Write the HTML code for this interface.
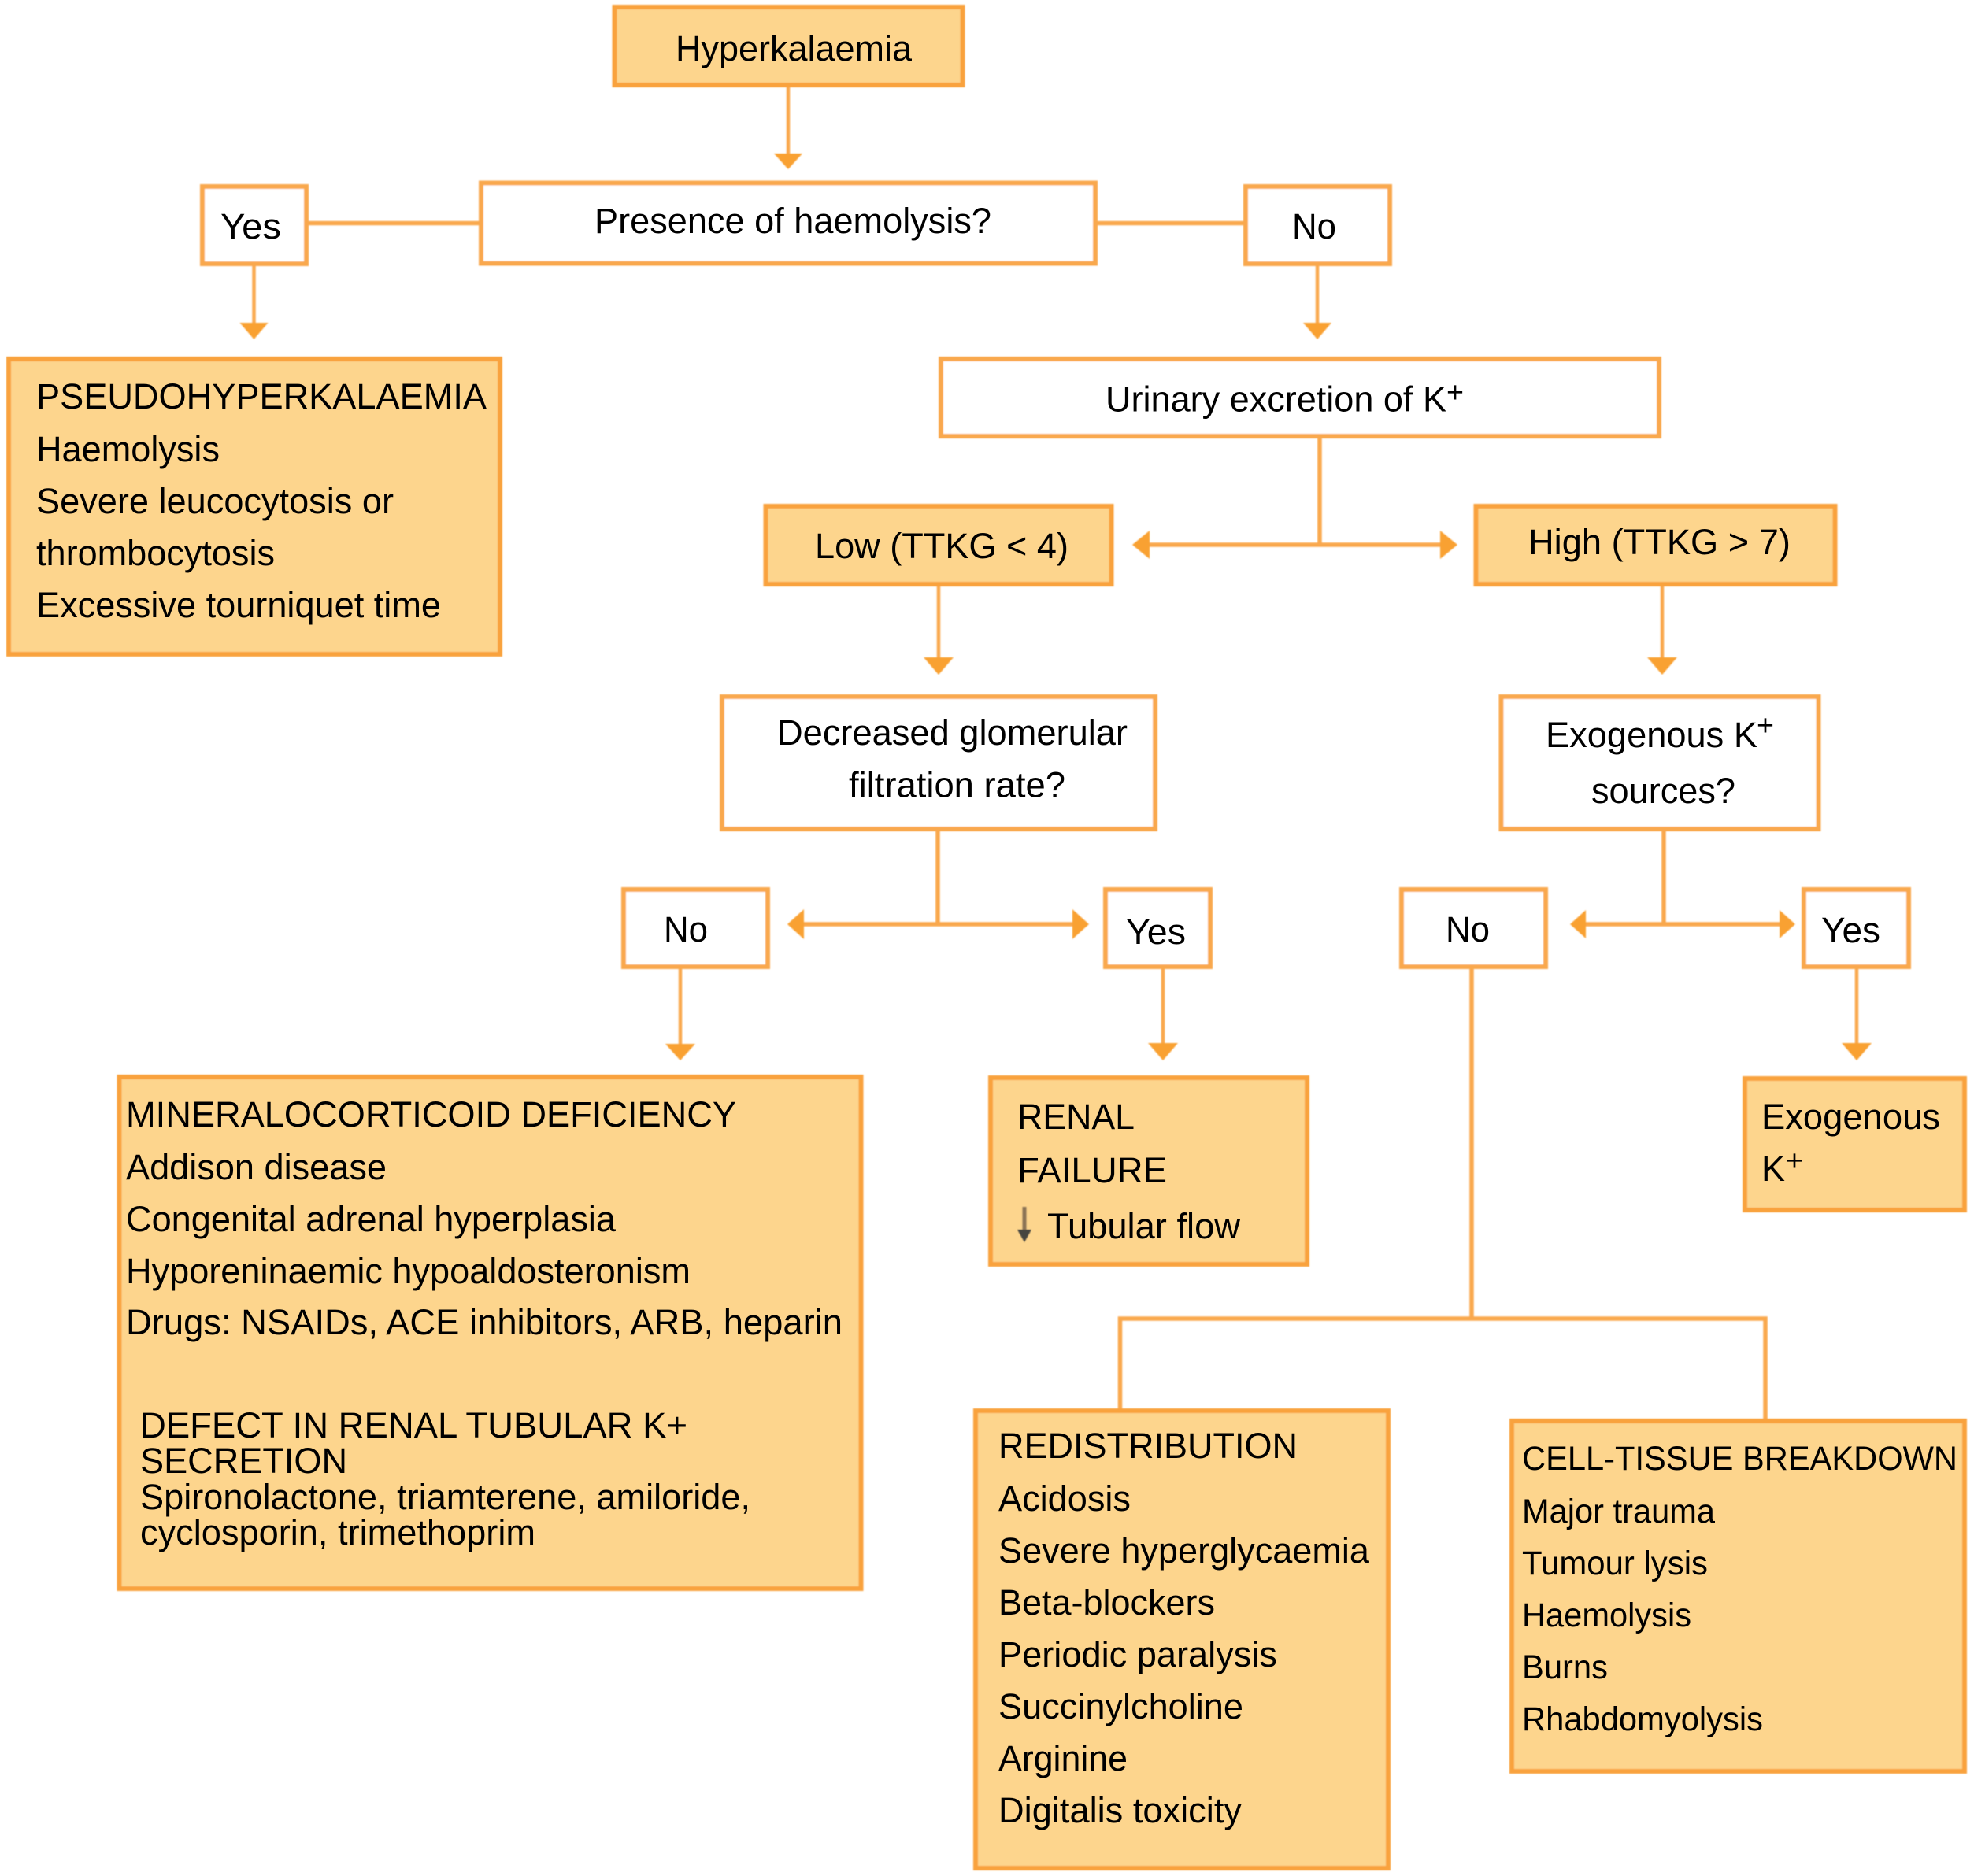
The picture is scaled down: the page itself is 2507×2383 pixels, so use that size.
<!DOCTYPE html>
<html lang="en">
<head>
<meta charset="utf-8">
<title>Hyperkalaemia flowchart</title>
<style>
html,body{margin:0;padding:0;background:#fff;width:2507px;height:2383px;overflow:hidden}
svg{display:block}
text{font-family:"Liberation Sans",Arial,sans-serif;font-size:45px;fill:#000}
.s{font-size:37px}
.c{font-size:43px}
.o{fill:#FDD58D;stroke:#F9A23E;stroke-width:6}
.w{fill:#fff;stroke:#F9A84E;stroke-width:6}
.l{fill:none;stroke:#F9A84E;stroke-width:5.500}
.t{fill:none;stroke:#F9A84E;stroke-width:4.500}
.a{fill:#F9A133;stroke:none}
</style>
</head>
<body>
<svg width="2507" height="2383" viewBox="0 0 2507 2383" xmlns="http://www.w3.org/2000/svg">
<defs><filter id="b" x="-2%" y="-2%" width="104%" height="104%"><feGaussianBlur stdDeviation="0.8"/></filter></defs>
<g filter="url(#b)">
<!-- connectors -->
<path class="t" d="M1001 109V200M322.500 336V415M1673 336V415M1192 743V840M2111 743V840M864 1229V1330M1477 1229V1330M2358 1229V1330"/>
<path class="l" d="M390 283.500H610M1392 283.500H1581M1676 555V692M1455 692H1835M1191 1053V1174M1016 1174H1367M2113 1053V1174M2010 1174H2265M1869 1229V1675M1422.500 1789V1675H2242V1804"/>
<!-- arrowheads -->
<path class="a" d="M983 195H1019L1001 215ZM304.500 410H340.500L322.500 431ZM1655 410H1691L1673 431ZM1173 835H1211L1192 857ZM2092 835H2130L2111 857ZM845 1326H883L864 1347ZM1458 1325H1496L1477 1347ZM2339 1325H2377L2358 1347Z"/>
<path class="a" d="M1438 692L1460 674V710ZM1851 692L1829 674V710ZM1000 1174L1021 1155V1193ZM1383 1174L1362 1155V1193ZM1994 1174L2014 1156V1192ZM2280 1174L2260 1156V1192Z"/>
<!-- filled boxes -->
<rect class="o" x="780.500" y="9" width="442" height="99"/>
<rect class="o" x="11" y="456" width="624" height="375"/>
<rect class="o" x="972.500" y="643" width="439" height="99"/>
<rect class="o" x="1874.500" y="643" width="456" height="99"/>
<rect class="o" x="151.500" y="1368" width="942" height="650"/>
<rect class="o" x="1258" y="1369" width="402" height="237"/>
<rect class="o" x="2216" y="1370" width="279" height="167"/>
<rect class="o" x="1239" y="1792" width="524" height="581"/>
<rect class="o" x="1920" y="1805" width="575" height="445"/>
<!-- white boxes -->
<rect class="w" x="611" y="232.500" width="780" height="102"/>
<rect class="w" x="257" y="237" width="132" height="98"/>
<rect class="w" x="1582" y="237" width="183" height="98"/>
<rect class="w" x="1195" y="456" width="912" height="98"/>
<rect class="w" x="917" y="885" width="550" height="168"/>
<rect class="w" x="1906.500" y="885" width="403" height="168"/>
<rect class="w" x="792" y="1130" width="183" height="98"/>
<rect class="w" x="1404" y="1130" width="133" height="98"/>
<rect class="w" x="1780" y="1130" width="183" height="98"/>
<rect class="w" x="2291" y="1130" width="133" height="98"/>
</g>
<!-- labels -->
<text x="858" y="77" textLength="300" lengthAdjust="spacingAndGlyphs">Hyperkalaemia</text>
<text x="755" y="296" textLength="504" lengthAdjust="spacingAndGlyphs">Presence of haemolysis?</text>
<text x="280" y="303" textLength="77" lengthAdjust="spacingAndGlyphs">Yes</text>
<text x="1641" y="303" textLength="56" lengthAdjust="spacingAndGlyphs">No</text>

<text x="46" y="519" textLength="572" lengthAdjust="spacingAndGlyphs">PSEUDOHYPERKALAEMIA</text>
<text x="46" y="586" textLength="233" lengthAdjust="spacingAndGlyphs">Haemolysis</text>
<text x="46" y="652" textLength="454" lengthAdjust="spacingAndGlyphs">Severe leucocytosis or</text>
<text x="46" y="718" textLength="303" lengthAdjust="spacingAndGlyphs">thrombocytosis</text>
<text x="46" y="784" textLength="514" lengthAdjust="spacingAndGlyphs">Excessive tourniquet time</text>

<text x="1404" y="522.500" textLength="433" lengthAdjust="spacingAndGlyphs">Urinary excretion of K</text>
<text class="s" x="1837" y="511" textLength="22" lengthAdjust="spacingAndGlyphs">+</text>
<text x="1035" y="709" textLength="322" lengthAdjust="spacingAndGlyphs">Low (TTKG &lt; 4)</text>
<text x="1941" y="704" textLength="333" lengthAdjust="spacingAndGlyphs">High (TTKG &gt; 7)</text>

<text x="987" y="946" textLength="445" lengthAdjust="spacingAndGlyphs">Decreased glomerular</text>
<text x="1078" y="1012.500" textLength="275" lengthAdjust="spacingAndGlyphs">filtration rate?</text>
<text x="1963" y="949" textLength="269" lengthAdjust="spacingAndGlyphs">Exogenous K</text>
<text class="s" x="2231" y="934" textLength="22" lengthAdjust="spacingAndGlyphs">+</text>
<text x="2021" y="1020" textLength="183" lengthAdjust="spacingAndGlyphs">sources?</text>

<text x="843" y="1196" textLength="56" lengthAdjust="spacingAndGlyphs">No</text>
<text x="1430" y="1199" textLength="76" lengthAdjust="spacingAndGlyphs">Yes</text>
<text x="1836" y="1196" textLength="56" lengthAdjust="spacingAndGlyphs">No</text>
<text x="2313" y="1197" textLength="75" lengthAdjust="spacingAndGlyphs">Yes</text>

<text x="160" y="1431" textLength="775" lengthAdjust="spacingAndGlyphs">MINERALOCORTICOID DEFICIENCY</text>
<text x="160" y="1498" textLength="331" lengthAdjust="spacingAndGlyphs">Addison disease</text>
<text x="160" y="1564" textLength="622" lengthAdjust="spacingAndGlyphs">Congenital adrenal hyperplasia</text>
<text x="160" y="1630" textLength="717" lengthAdjust="spacingAndGlyphs">Hyporeninaemic hypoaldosteronism</text>
<text x="160" y="1695" textLength="910" lengthAdjust="spacingAndGlyphs">Drugs: NSAIDs, ACE inhibitors, ARB, heparin</text>
<text x="178" y="1826" textLength="695" lengthAdjust="spacingAndGlyphs">DEFECT IN RENAL TUBULAR K+</text>
<text x="178" y="1871" textLength="263" lengthAdjust="spacingAndGlyphs">SECRETION</text>
<text x="178" y="1917" textLength="775" lengthAdjust="spacingAndGlyphs">Spironolactone, triamterene, amiloride,</text>
<text x="178" y="1962" textLength="502" lengthAdjust="spacingAndGlyphs">cyclosporin, trimethoprim</text>

<text x="1292" y="1434" textLength="149" lengthAdjust="spacingAndGlyphs">RENAL</text>
<text x="1292" y="1502" textLength="190" lengthAdjust="spacingAndGlyphs">FAILURE</text>
<text x="1330" y="1573" textLength="245" lengthAdjust="spacingAndGlyphs">Tubular flow</text>
<g filter="url(#b)">
<path d="M1301 1533V1566" stroke="#8a7355" stroke-width="5" fill="none"/>
<path d="M1292 1562H1310L1301 1578Z" fill="#45453f"/>
</g>

<text x="2237" y="1434" textLength="227" lengthAdjust="spacingAndGlyphs">Exogenous</text>
<text x="2237" y="1500">K</text>
<text class="s" x="2268" y="1487" textLength="22" lengthAdjust="spacingAndGlyphs">+</text>

<text x="1268" y="1852" textLength="380" lengthAdjust="spacingAndGlyphs">REDISTRIBUTION</text>
<text x="1268" y="1919" textLength="168" lengthAdjust="spacingAndGlyphs">Acidosis</text>
<text x="1268" y="1985" textLength="471" lengthAdjust="spacingAndGlyphs">Severe hyperglycaemia</text>
<text x="1268" y="2051" textLength="275" lengthAdjust="spacingAndGlyphs">Beta-blockers</text>
<text x="1268" y="2117" textLength="354" lengthAdjust="spacingAndGlyphs">Periodic paralysis</text>
<text x="1268" y="2183" textLength="311" lengthAdjust="spacingAndGlyphs">Succinylcholine</text>
<text x="1268" y="2249" textLength="164" lengthAdjust="spacingAndGlyphs">Arginine</text>
<text x="1268" y="2315" textLength="309" lengthAdjust="spacingAndGlyphs">Digitalis toxicity</text>

<text class="c" x="1933" y="1867" textLength="553" lengthAdjust="spacingAndGlyphs">CELL-TISSUE BREAKDOWN</text>
<text class="c" x="1933" y="1934" textLength="245" lengthAdjust="spacingAndGlyphs">Major trauma</text>
<text class="c" x="1933" y="2000" textLength="236" lengthAdjust="spacingAndGlyphs">Tumour lysis</text>
<text class="c" x="1933" y="2066" textLength="215" lengthAdjust="spacingAndGlyphs">Haemolysis</text>
<text class="c" x="1933" y="2132" textLength="109" lengthAdjust="spacingAndGlyphs">Burns</text>
<text class="c" x="1933" y="2198" textLength="306" lengthAdjust="spacingAndGlyphs">Rhabdomyolysis</text>
</svg>
</body>
</html>
